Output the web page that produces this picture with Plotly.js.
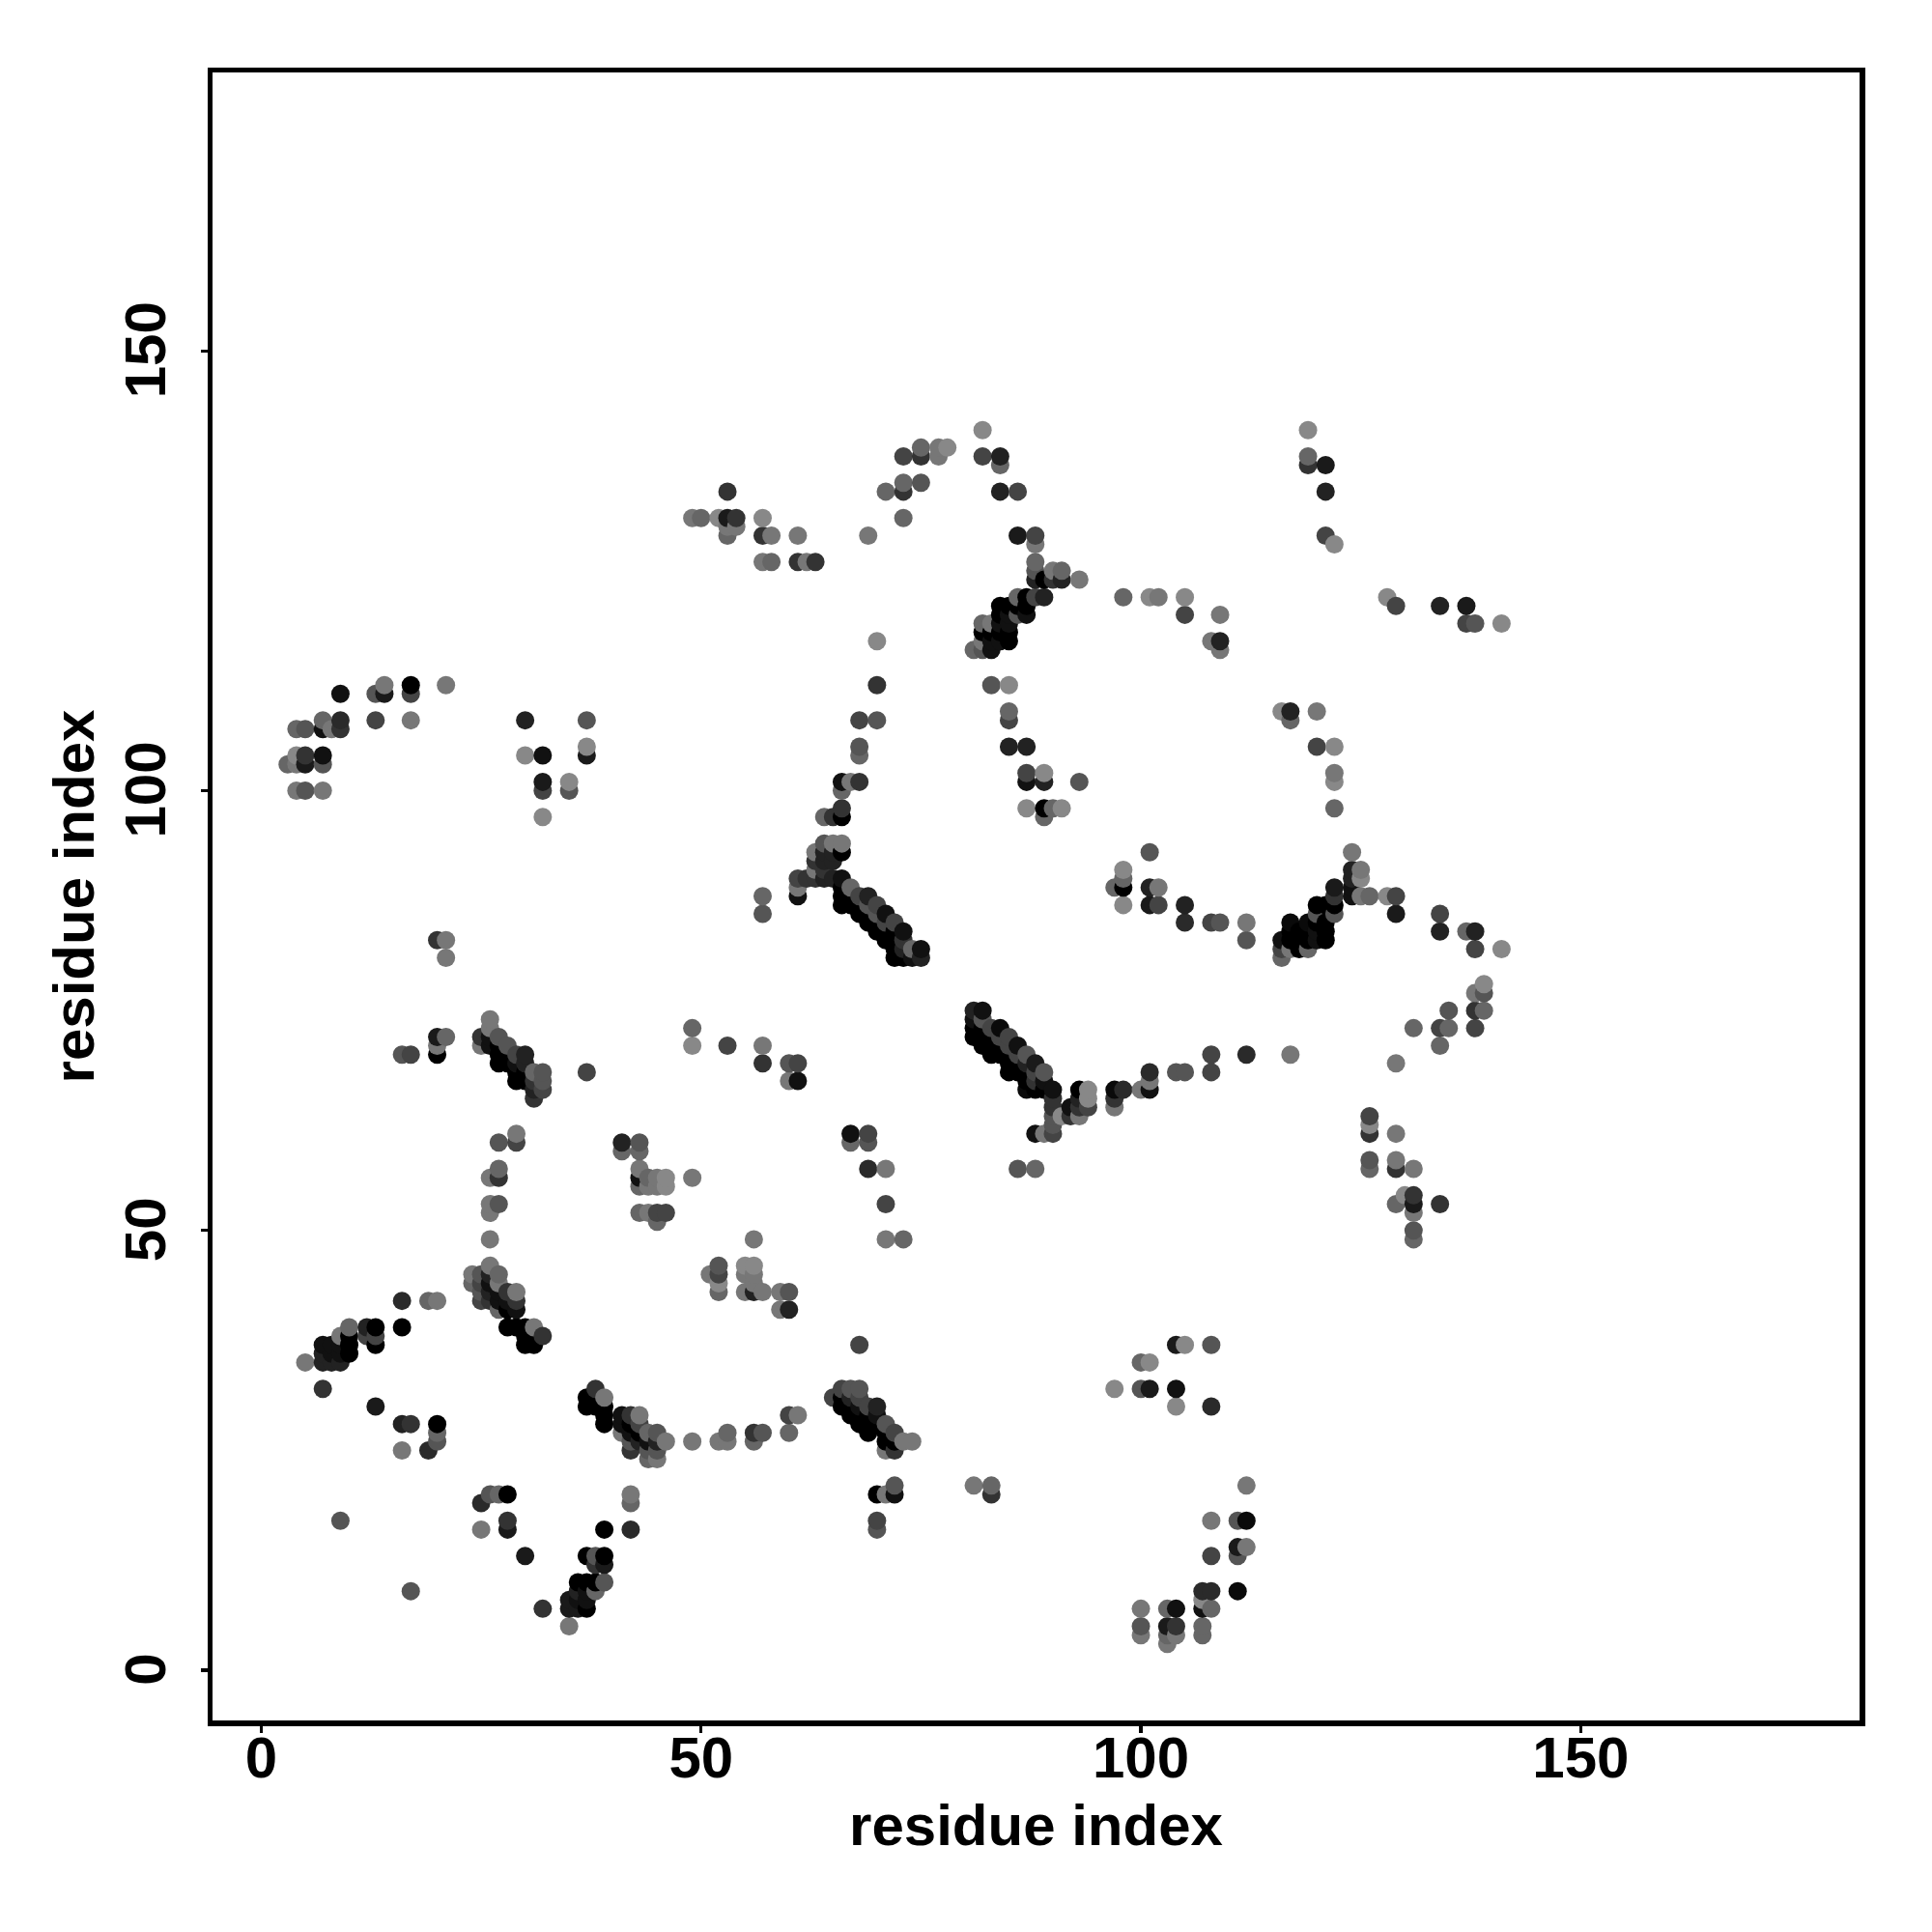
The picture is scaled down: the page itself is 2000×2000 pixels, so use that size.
<!DOCTYPE html>
<html><head><meta charset="utf-8">
<script src="https://cdn.plot.ly/plotly-3.0.1.min.js"></script>
<style>html,body{margin:0;padding:0;background:#fff}</style></head>
<body><div id="chart" style="width:2000px;height:2000px"></div>
<script>
// [residue x, residue y, grey level]
const clusterLowLeft = [
[5,35,0x77],[7,37,0x11],[8,37,0x11],[7,36,0x22],[7,35,0x22],[8,35,0x22],[9,35,0x22],[9,36,0x11],[8,36,0x11],[9,37,0x11],
[10,36,0x00],[10,37,0x00],[10,38,0x00],[9,38,0x77],[10,39,0x66],[12,39,0x22],[13,39,0x00],[13,38,0x44],[13,37,0x00],[12,38,0x44],
[7,32,0x33],[13,30,0x1a],[16,42,0x2a],[16,39,0x00],[19,42,0x66],[20,42,0x77],
[16,28,0x22],[17,28,0x33],[20,28,0x00],[20,27,0x66],[20,26,0x55],[19,25,0x2a],[16,25,0x77],[9,17,0x55],[17,9,0x55],
[25,19,0x2a],[26,20,0x55],[27,20,0x66],[28,20,0x00],[25,16,0x77],[28,17,0x33],[28,16,0x1a],[30,13,0x1a],[32,7,0x33],[35,5,0x77],
[39,16,0x00],[42,16,0x2a],[42,20,0x77],[42,19,0x66]
];
const clusterHelixA = [
[37,13,0x00],[38,13,0x55],[39,13,0x00],[38,12,0x33],[39,12,0x1a],[36,10,0x00],[37,10,0x00],[38,10,0x00],[39,10,0x55],[38,9,0x66],[36,9,0x22],
[35,8,0x1a],[35,7,0x1a],[36,7,0x1a],[37,7,0x00],[37,8,0x11],[36,8,0x11],[37,9,0x11],
[26,46,0x77],[24,45,0x77],[24,44,0x66],[25,45,0x55],[27,45,0x66],[25,44,0x44],[26,45,0x22],[26,44,0x11],[27,44,0x77],[26,43,0x22],[25,43,0x55],
[25,42,0x44],[26,42,0x33],[27,43,0x11],[28,43,0x33],[29,43,0x77],[28,42,0x11],[29,42,0x33],[29,41,0x11],[28,41,0x00],[27,41,0x66],[27,42,0x11],
[28,39,0x00],[29,39,0x00],[30,39,0x00],[31,39,0x77],[30,38,0x00],[30,37,0x00],[31,37,0x00],[32,38,0x33],
[37,31,0x00],[37,30,0x00],[38,32,0x33],[39,31,0x77],[38,31,0x00],[38,30,0x00],[39,30,0x00],[39,29,0x00],[39,28,0x00],
[41,29,0x11],[42,29,0x33],[43,29,0x77],[41,28,0x11],[41,27,0x77],[42,28,0x00],[42,27,0x11],[43,28,0x44],[43,27,0x00],[44,27,0x66],[45,27,0x55],
[46,26,0x77],[44,26,0x11],[42,26,0x55],[42,25,0x33],[43,26,0x22],[44,25,0x55],[45,26,0x22],[45,25,0x55],[44,24,0x66],[45,24,0x77]
];
const clusterLowMid = [
[49,26,0x77],[52,26,0x77],[53,26,0x77],[53,27,0x66],[56,26,0x66],[56,27,0x33],[57,27,0x55],[60,27,0x66],[60,29,0x44],[61,29,0x77],
[51,45,0x77],[52,46,0x55],[52,45,0x44],[52,44,0x88],[52,43,0x66],[55,46,0x88],[56,46,0x88],[55,45,0x77],[56,45,0x77],[55,43,0x77],[56,43,0x22],[56,44,0x77],[57,43,0x77],
[59,43,0x77],[60,43,0x55],[59,41,0x77],[60,41,0x22],[68,37,0x44],
[65,31,0x44],[66,32,0x44],[67,32,0x55],[68,32,0x55],[66,31,0x00],[66,30,0x00],[67,31,0x22],[67,30,0x00],[67,29,0x00],[68,31,0x44],[68,30,0x11],[69,30,0x44],[70,30,0x22],
[69,29,0x00],[69,28,0x00],[69,27,0x00],[68,29,0x00],[68,28,0x00],[70,29,0x11],[70,28,0x00],[71,28,0x55],[71,27,0x00],[71,26,0x00],[72,27,0x44],[72,26,0x00],[71,25,0x77],[72,25,0x33],[73,26,0x77],[74,26,0x77],
[70,20,0x00],[71,20,0x77],[72,20,0x11],[72,21,0x55],[70,17,0x44],[70,16,0x55],[81,21,0x77],[83,21,0x66],[83,20,0x33]
];
const clusterLowRight = [
[97,32,0x88],[100,35,0x66],[101,35,0x88],[100,32,0x55],[101,32,0x1a],[104,32,0x11],[104,37,0x1a],[105,37,0x88],[108,37,0x55],[104,30,0x88],[108,30,0x2a],
[112,21,0x77],[108,17,0x77],[111,17,0x55],[112,17,0x0a],[111,14,0x1a],[112,14,0x77],[111,13,0x55],[108,13,0x44],[107,9,0x2a],[108,9,0x2a],[111,9,0x0a],
[100,7,0x77],[103,7,0x66],[104,7,0x11],[107,7,0x11],[108,7,0x66],[107,8,0x88],[100,5,0x55],[103,5,0x1a],[104,5,0x33],[107,5,0x66],[100,4,0x77],[103,4,0x66],[104,4,0x77],[107,4,0x66],[103,3,0x77]
];
const clusterMidLeft = [
[20,83,0x33],[21,83,0x77],[21,81,0x77],[20,72,0x1a],[21,72,0x66],[20,71,0x77],[20,70,0x00],[16,70,0x55],[17,70,0x44],
[26,74,0x77],[26,73,0x77],[25,72,0x33],[25,71,0x77],[26,71,0x11],[26,72,0x11],[27,72,0x55],[27,71,0x00],[27,70,0x00],[27,69,0x00],[28,71,0x55],[28,70,0x00],[28,69,0x00],
[29,70,0x44],[30,70,0x22],[29,69,0x11],[29,68,0x00],[29,67,0x00],[30,69,0x22],[30,68,0x00],[30,67,0x00],[31,68,0x66],[32,68,0x55],[32,67,0x55],[31,67,0x33],[32,66,0x44],[31,65,0x33],[31,66,0x22],[37,68,0x44],
[27,60,0x55],[29,61,0x77],[29,60,0x44],[26,56,0x77],[27,57,0x66],[27,56,0x33],[26,53,0x77],[26,52,0x77],[27,53,0x55],[26,49,0x77],
[41,60,0x22],[43,60,0x55],[41,59,0x66],[43,59,0x66],[43,57,0x77],[43,56,0x11],[43,55,0x66],[44,56,0x66],[45,56,0x77],[46,56,0x88],[46,55,0x88],[44,55,0x77],[45,55,0x77],[49,56,0x77],
[43,52,0x66],[44,52,0x77],[45,52,0x44],[46,52,0x44],[45,51,0x66],[56,49,0x77]
];
const clusterMidCentre = [
[57,88,0x66],[57,86,0x55],[61,88,0x11],[61,89,0x77],[61,90,0x44],[62,90,0x33],[63,90,0x33],[64,90,0x22],[65,90,0x22],[66,90,0x11],
[66,89,0x00],[66,88,0x00],[66,87,0x00],[67,89,0x66],[68,88,0x44],[69,88,0x22],[67,88,0x00],[67,87,0x00],[68,87,0x00],[68,86,0x00],[69,87,0x55],[71,86,0x11],[69,86,0x00],[69,85,0x00],
[70,87,0x44],[70,85,0x00],[70,84,0x00],[70,86,0x55],[71,85,0x44],[72,85,0x44],[71,84,0x00],[72,84,0x00],[73,84,0x11],[71,83,0x00],[72,83,0x00],[72,82,0x00],[72,81,0x00],[73,81,0x00],[74,81,0x11],[75,81,0x22],[74,82,0x66],[75,82,0x11],[73,82,0x22],[73,83,0x33],
[49,73,0x66],[49,71,0x88],[53,71,0x44],[57,71,0x77],[57,69,0x33],[60,69,0x55],[61,69,0x44],[60,67,0x77],[61,67,0x11],
[81,75,0x22],[82,75,0x11],[81,74,0x11],[81,73,0x00],[81,72,0x00],[82,74,0x55],[83,73,0x44],[84,73,0x0a],[82,73,0x00],[82,72,0x00],[82,71,0x00],[83,72,0x00],[83,71,0x00],[83,70,0x00],[84,72,0x44],[85,72,0x44],
[84,71,0x00],[84,70,0x00],[85,71,0x44],[86,71,0x11],[85,70,0x00],[85,69,0x00],[85,68,0x00],[86,70,0x44],[87,70,0x55],[86,69,0x00],[87,69,0x22],[88,69,0x1a],[86,68,0x00],[87,68,0x00],[87,67,0x00],[87,66,0x0a],[88,67,0x33],[88,68,0x44],[88,66,0x00],[89,68,0x55],[89,67,0x11],[89,66,0x00],[90,66,0x11],
[90,65,0x33],[90,64,0x33],[90,63,0x55],[90,62,0x55],[90,61,0x44],[89,61,0x77],[88,61,0x11],[91,63,0x88],[92,64,0x11],[92,63,0x33],[93,66,0x00],[93,65,0x22],[93,64,0x33],[94,66,0x88],[94,65,0x88],[94,64,0x44],[93,63,0x77],
[97,66,0x0a],[98,66,0x2a],[97,65,0x33],[97,64,0x77],[67,61,0x11],[69,61,0x44],[67,60,0x66],[69,60,0x55],[69,57,0x2a],[71,57,0x77],[71,53,0x44],[71,49,0x77],[73,49,0x66],[86,57,0x55],[88,57,0x66]
];
const clusterMidRight = [
[97,89,0x66],[98,89,0x00],[98,91,0x88],[98,90,0x66],[98,87,0x88],[101,89,0x22],[102,89,0x77],[101,87,0x1a],[102,87,0x44],[101,93,0x55],[105,87,0x22],[105,85,0x2a],[108,85,0x44],[109,85,0x55],[112,85,0x77],[112,83,0x55],
[116,83,0x11],[116,82,0x44],[116,81,0x66],[117,85,0x0a],[117,84,0x00],[117,83,0x00],[117,82,0x77],[118,84,0x00],[118,83,0x00],[118,82,0x00],[119,85,0x0a],[119,84,0x00],[119,83,0x00],[119,82,0x66],
[120,87,0x00],[121,87,0x00],[120,84,0x11],[120,83,0x11],[120,85,0x00],[120,86,0x55],[121,85,0x00],[121,84,0x00],[121,83,0x00],[122,89,0x1a],[122,88,0x33],[122,87,0x00],[122,86,0x55],
[124,93,0x77],[124,91,0x22],[125,91,0x77],[125,90,0x88],[124,90,0x22],[124,89,0x11],[124,88,0x11],[125,88,0x77],[126,88,0x66],[128,88,0x88],[129,88,0x44],[129,86,0x1a],
[134,86,0x44],[134,84,0x22],[137,84,0x66],[138,84,0x22],[138,82,0x44],[141,82,0x88],
[139,78,0x88],[138,77,0x77],[139,77,0x55],[138,75,0x33],[139,75,0x66],[135,75,0x55],[134,73,0x44],[135,73,0x66],[131,73,0x66],[138,73,0x44],[134,71,0x66],[129,69,0x77],
[112,70,0x2a],[117,70,0x77],[108,70,0x44],[108,68,0x44],[104,68,0x55],[105,68,0x55],[101,68,0x2a],[101,67,0x77],[101,66,0x11],[100,66,0x77],
[126,63,0x44],[126,62,0x88],[126,61,0x33],[129,61,0x77],[126,58,0x55],[126,57,0x66],[129,58,0x77],[129,57,0x33],[131,57,0x77],
[129,53,0x66],[130,54,0x88],[131,54,0x33],[131,53,0x1a],[131,52,0x77],[134,53,0x33],[131,50,0x55],[131,49,0x66]
];
const clusterUpperLeft = [
[9,111,0x11],[13,111,0x55],[14,111,0x1a],[14,112,0x77],[17,111,0x44],[17,112,0x00],[21,112,0x77],[7,108,0x66],[9,108,0x2a],[7,107,0x11],[8,107,0x77],[9,107,0x33],[13,108,0x44],[17,108,0x77],
[4,107,0x66],[5,107,0x55],[4,104,0x88],[5,104,0x33],[7,104,0x11],[3,103,0x66],[4,103,0x77],[5,103,0x1a],[7,103,0x55],[4,100,0x77],[5,100,0x55],[7,100,0x77],
[30,108,0x22],[37,108,0x55],[30,104,0x88],[32,104,0x11],[37,104,0x1a],[37,105,0x88],[32,101,0x1a],[32,100,0x44],[35,101,0x88],[35,100,0x55],[32,97,0x88]
];
const clusterUpperCentre = [
[53,134,0x33],[49,131,0x77],[50,131,0x66],[52,131,0x88],[53,131,0x1a],[54,131,0x33],[54,130,0x77],[53,130,0x77],[53,129,0x66],[57,131,0x88],[57,129,0x33],[58,129,0x77],[61,129,0x77],
[57,126,0x77],[58,126,0x66],[61,126,0x33],[62,126,0x77],[63,126,0x33],[69,129,0x77],[73,131,0x66],[71,134,0x66],[73,134,0x33],[73,135,0x66],[75,135,0x55],
[73,138,0x44],[75,138,0x33],[75,139,0x66],[77,138,0x77],[77,139,0x77],[78,139,0x88],[82,141,0x88],[82,138,0x44],[84,138,0x22],[84,137,0x66],[84,134,0x22],[86,134,0x44],
[86,129,0x1a],[88,129,0x44],[88,128,0x77],[88,126,0x66],[88,125,0x55],[88,124,0x22],[89,124,0x00],[90,124,0x33],[91,124,0x22],[90,125,0x77],[91,125,0x66],[93,124,0x77],
[89,122,0x22],[88,122,0x44],[87,122,0x00],[86,122,0x66],[87,121,0x00],[87,120,0x11],[86,121,0x00],[86,120,0x55],[84,121,0x00],[85,121,0x00],[84,120,0x00],[85,120,0x11],[84,119,0x11],[85,119,0x11],[84,118,0x00],
[82,119,0x66],[83,119,0x77],[82,118,0x00],[83,118,0x00],[85,118,0x00],[85,117,0x00],[82,117,0x77],[83,117,0x11],[84,117,0x11],[83,116,0x11],[81,116,0x66],[82,116,0x55],
[83,112,0x55],[85,112,0x88],[85,109,0x66],[85,108,0x44],[85,105,0x22],[87,105,0x22],[87,102,0x44],[89,102,0x88],[87,101,0x11],[89,101,0x22],[93,101,0x55],[87,98,0x88],[89,98,0x00],[90,98,0x66],[91,98,0x88],[89,97,0x66],
[70,117,0x88],[70,112,0x33],[68,108,0x44],[70,108,0x55],[68,105,0x55],[68,104,0x66],[66,101,0x11],[67,101,0x77],[68,101,0x33],[66,100,0x66],[66,98,0x33],[66,97,0x00],[65,97,0x33],[64,97,0x66],
[63,93,0x77],[64,94,0x55],[65,94,0x77],[66,94,0x77],[66,93,0x00],[64,93,0x22],[65,93,0x22],[63,92,0x33],[64,92,0x22],[65,92,0x22],[63,91,0x77],[64,91,0x33]
];
const clusterUpperRight = [
[119,141,0x88],[119,138,0x66],[119,137,0x33],[121,137,0x1a],[121,134,0x22],[121,129,0x44],[122,128,0x88],
[98,122,0x66],[101,122,0x88],[102,122,0x77],[105,122,0x88],[105,120,0x44],[109,120,0x77],[108,117,0x77],[109,117,0x22],[109,116,0x77],
[128,122,0x88],[129,121,0x44],[134,121,0x22],[137,121,0x1a],[137,119,0x44],[138,119,0x55],[141,119,0x88],
[116,109,0x88],[117,109,0x22],[117,108,0x66],[120,109,0x77],[120,105,0x44],[122,105,0x88],[122,102,0x77],[122,101,0x88],[122,98,0x66]
];
const tickValues = [0, 50, 100, 150];
const axisLabel = 'residue index';

// Points overlap in residue order: later x, then later y, on top.
const points = [].concat(clusterLowLeft, clusterHelixA, clusterLowMid, clusterLowRight,
  clusterMidLeft, clusterMidCentre, clusterMidRight, clusterUpperLeft, clusterUpperCentre, clusterUpperRight)
  .sort((a, b) => a[0] - b[0] || a[1] - b[1]);

const fontFamily = '"Liberation Sans", Arial, sans-serif';
const axisCommon = {
  tickmode: 'array', tickvals: tickValues, ticktext: tickValues.map(String),
  ticks: 'outside', ticklen: 7, tickwidth: 3.3, tickcolor: '#000',
  showline: true, mirror: true, linecolor: '#000', linewidth: 5.5,
  showgrid: false, zeroline: false,
  tickfont: {family: fontFamily, size: 60, color: '#000', weight: 700}
};
Plotly.newPlot('chart', [{
  type: 'scatter', mode: 'markers', cliponaxis: true,
  x: points.map(p => p[0]), y: points.map(p => p[1]),
  marker: {size: 19, line: {width: 0},
    color: points.map(p => `rgb(${p[2]},${p[2]},${p[2]})`)}
}], {
  width: 2000, height: 2000, showlegend: false,
  paper_bgcolor: '#fff', plot_bgcolor: '#fff',
  margin: {l: 219.5, r: 74.5, t: 74.5, b: 218.8, pad: 0},
  xaxis: Object.assign({}, axisCommon, {range: [-5.54, 181.7], ticklabelstandoff: -26,
    title: {text: axisLabel, standoff: 18, font: {family: fontFamily, size: 60, color: '#000', weight: 700}}}),
  yaxis: Object.assign({}, axisCommon, {range: [-5.70, 181.65], tickangle: -90, ticklabelstandoff: 13, ticklabelshift: 8,
    title: {text: axisLabel, standoff: 1, font: {family: fontFamily, size: 60, color: '#000', weight: 700}}})
}, {displayModeBar: false, staticPlot: true});
</script></body></html>
